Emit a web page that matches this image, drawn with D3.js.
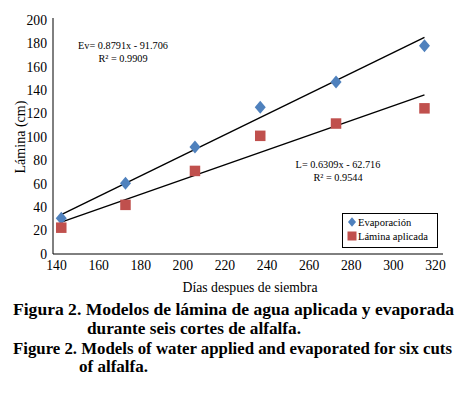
<!DOCTYPE html>
<html>
<head>
<meta charset="utf-8">
<script src="https://cdn.jsdelivr.net/npm/d3@7"></script>
<style>
  html, body { margin: 0; padding: 0; background: #fff; }
  svg { display: block; }
  text { font-family: "Liberation Serif", "Times New Roman", serif; fill: #000; }
</style>
</head>
<body>
<svg id="chart" width="468" height="396"></svg>
<script>
// ---- data ----
const days = [142.5, 173, 206, 237, 273, 315];
const evaporacion = [30.5, 60.5, 91.5, 125.5, 147, 178];
const laminaAplicada = [22.5, 42, 71, 101, 111.5, 124.5];
const evSlope = 0.8791, evIntercept = -91.706;
const lSlope = 0.6309, lIntercept = -62.716;
const xTicks = [140, 160, 180, 200, 220, 240, 260, 280, 300, 320];
const yTicks = [0, 20, 40, 60, 80, 100, 120, 140, 160, 180, 200];
const evLabel = ["Ev= 0.8791x - 91.706", "R² = 0.9909"];
const lLabel = ["L= 0.6309x - 62.716", "R² = 0.9544"];
const legendLabels = ["Evaporación", "Lámina aplicada"];
const xTitle = "Días despues de siembra";
const yTitle = "Lámina (cm)";
const caption = [
  "Figura 2. Modelos de lámina de agua aplicada y evaporada",
  "durante seis cortes de alfalfa.",
  "Figure 2. Models of water applied and evaporated for six cuts",
  "of alfalfa."
];

// ---- drawing ----
const FONT = '"Liberation Serif", "Times New Roman", serif';
const svg = d3.select("#chart");
const blue = "#4F81BD", red = "#C0504D";
const x = d3.scaleLinear().domain([140, 320]).range([56, 435]);
const y = d3.scaleLinear().domain([0, 200]).range([254, 20]);

function fitSize(sel, base, target) {
  sel.style("font-size", base + "px");
  const len = sel.node().getComputedTextLength();
  return len > 0 ? base * target / len : base;
}

const probe = svg.append("text").style("font-family", FONT).text("200");
const tickSize = fitSize(probe, 14, 20.5);
probe.remove();

// axes
const gy = svg.append("g").attr("transform", "translate(53,0)")
  .call(d3.axisLeft(y).tickValues(yTicks).tickSize(0).tickPadding(6).tickFormat(d3.format("d")));
gy.attr("font-family", null);
gy.select(".domain").attr("stroke", "#000").attr("d", "M0,18V254");
gy.selectAll("text").style("font-family", FONT).style("font-size", tickSize + "px");

const gx = svg.append("g").attr("transform", "translate(0,254)")
  .call(d3.axisBottom(x).tickValues(xTicks).tickSize(0).tickPadding(6).tickFormat(d3.format("d")));
gx.attr("font-family", null);
gx.select(".domain").attr("stroke", "#000").attr("d", "M53,0H443");
gx.selectAll("text").style("font-family", FONT).style("font-size", tickSize + "px");

// titles
const yt = svg.append("text").attr("transform", "translate(20,137) rotate(-90)")
  .attr("text-anchor", "middle").attr("dominant-baseline", "central").text(yTitle);
yt.style("font-size", fitSize(yt, 14, 73) + "px");
const xt = svg.append("text").attr("x", 250).attr("y", 287)
  .attr("text-anchor", "middle").attr("dominant-baseline", "central").text(xTitle);
xt.style("font-size", fitSize(xt, 14, 135) + "px");

// trend lines
const x0 = d3.min(days), x1 = d3.max(days);
[[evSlope, evIntercept], [lSlope, lIntercept]].forEach(([m, b]) => {
  svg.append("line")
    .attr("x1", x(x0)).attr("y1", y(m * x0 + b))
    .attr("x2", x(x1)).attr("y2", y(m * x1 + b))
    .attr("stroke", "#000").attr("stroke-width", 1.4);
});

// markers
const diamondPath = (hw, hh) => `M0,${-hh}L${hw},0L0,${hh}L${-hw},0Z`;
svg.append("g").selectAll("path").data(days).join("path")
  .attr("d", diamondPath(5.5, 6.5))
  .attr("transform", (d, i) => `translate(${x(d)},${y(evaporacion[i])})`)
  .attr("fill", blue);
svg.append("g").selectAll("rect").data(days).join("rect")
  .attr("x", d => x(d) - 5.25).attr("y", (d, i) => y(laminaAplicada[i]) - 5.25)
  .attr("width", 10.5).attr("height", 10.5).attr("fill", red);

// equation labels
const eqProbe = svg.append("text").text(evLabel[0]);
const eqSize = fitSize(eqProbe, 11, 90);
eqProbe.remove();
function eq(lines, cx, cy) {
  lines.forEach((t, i) => svg.append("text")
    .attr("x", cx).attr("y", cy + i * 13)
    .attr("text-anchor", "middle").attr("dominant-baseline", "central")
    .style("font-size", eqSize + "px").text(t));
}
eq(evLabel, 123, 45);
eq(lLabel, 338, 164);

// legend
svg.append("rect").attr("x", 342.5).attr("y", 213.5).attr("width", 95).attr("height", 34)
  .attr("fill", "#fff").attr("stroke", "#000").attr("stroke-width", 1);
svg.append("path").attr("d", diamondPath(4, 4.8))
  .attr("transform", "translate(352,222)").attr("fill", blue);
svg.append("rect").attr("x", 347.5).attr("y", 231.5).attr("width", 9).attr("height", 9).attr("fill", red);
const lgProbe = svg.append("text").text(legendLabels[1]);
const lgSize = fitSize(lgProbe, 11, 70);
lgProbe.remove();
legendLabels.forEach((t, i) => svg.append("text")
  .attr("x", 358).attr("y", 222 + i * 14).attr("dominant-baseline", "central")
  .style("font-size", lgSize + "px").text(t));

// caption
const capPos = [[13, 309, 441], [87, 328, 214], [13, 348, 439], [79, 366, 69]];
caption.forEach((t, i) => svg.append("text")
  .attr("x", capPos[i][0]).attr("y", capPos[i][1]).attr("dominant-baseline", "central")
  .attr("textLength", capPos[i][2]).attr("lengthAdjust", "spacingAndGlyphs")
  .style("font-size", "16px").style("font-weight", "bold").text(t));
</script>
</body>
</html>
